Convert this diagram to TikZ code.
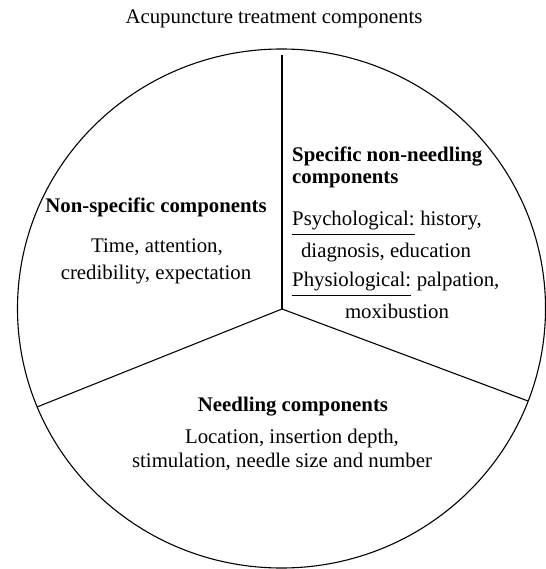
\documentclass[tikz,border=0pt]{standalone}
\usepackage{fontspec}
\setmainfont{Liberation Serif}
\usetikzlibrary{calc}

\newcommand{\figsize}{\fontsize{20.8}{25}\selectfont}

\tikzset{
  txt/.style={inner sep=0pt, anchor=base, font=\figsize},
  hd/.style={txt, font=\figsize\bfseries},
  part/.style={line width=1.1pt},
  uline/.style={line width=0.8pt}
}

\begin{document}
\begin{tikzpicture}[x=1pt,y=-1pt]
  \useasboundingbox (0,0) rectangle (545,569);

  %% Title
  \node[txt] (TITLE) at (274,24) {Acupuncture treatment components};

  %% The circle split into three parts
  \coordinate (C) at (281.5,308.5);
  \coordinate (J) at (282,309);
  \coordinate (TOP) at (282,55);
  \coordinate (LEFT) at (37,407);
  \coordinate (RIGHT) at (528,401);
  \draw[part] (C) ellipse [x radius=264pt, y radius=259.5pt];
  \draw[part] (TOP) -- (J);
  \draw[part] (LEFT) -- (J) -- (RIGHT);

  %% Left part
  \node[hd] (NSH) at (156,212) {Non-specific components};
  \node[txt] (NS1) at (157,252) {Time, attention,};
  \node[txt] (NS2) at (156,279) {credibility, expectation};

  %% Right part
  \node[hd, anchor=base west] (SPH1) at (292,162) {Specific non-needling};
  \node[hd, anchor=base west] (SPH2) at (292,183) {components};
  \node[txt, anchor=base west] (PSY) at (292,225) {Psychological:};
  \node[txt, anchor=base west] (PSYB) at ($(PSY.base east)+(5.2,0)$) {history,};
  \draw[uline] ($(PSY.base west)+(0,9)$) -- ($(PSY.base east)+(0,9)$);
  \node[txt] (DIAG) at (386,257) {diagnosis, education};
  \node[txt, anchor=base west] (PHY) at (292,286) {Physiological:};
  \node[txt, anchor=base west] (PHYB) at ($(PHY.base east)+(5.2,0)$) {palpation,};
  \draw[uline] ($(PHY.base west)+(0,9)$) -- ($(PHY.base east)+(0,9)$);
  \node[txt] (MOX) at (397,318) {moxibustion};

  %% Bottom part
  \node[hd] (NDH) at (293,411) {Needling components};
  \node[txt] (ND1) at (292,443) {Location, insertion depth,};
  \node[txt] (ND2) at (282,467) {stimulation, needle size and number};
\end{tikzpicture}
\end{document}
